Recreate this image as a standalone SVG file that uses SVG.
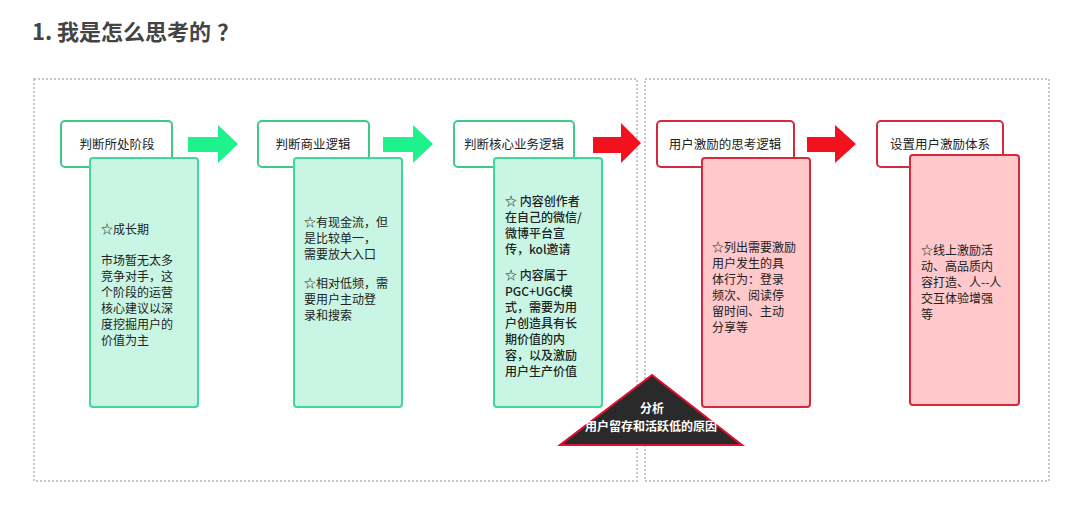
<svg xmlns="http://www.w3.org/2000/svg" width="1080" height="511" viewBox="0 0 1080 511">
<style>
.title{font-family:"Noto Sans CJK SC",sans-serif;font-size:22px;font-weight:bold;fill:#444}
.frame{fill:none;stroke:#b5b5b5;stroke-width:1.5;stroke-dasharray:2 2}
.gh{fill:#fff;stroke:#3cc98c;stroke-width:2}
.gc{fill:#c9f6e4;stroke:#40d99b;stroke-width:2}
.rh{fill:#fff;stroke:#d8283e;stroke-width:2}
.rc{fill:#ffc8cb;stroke:#d8283e;stroke-width:2}
.ht{font-family:"Noto Sans CJK SC",sans-serif;font-size:12.5px;fill:#222;text-anchor:middle}
.ct{font-family:"Noto Sans CJK SC",sans-serif;font-size:12px;fill:#222}
.ctb{font-family:"Noto Sans CJK SC",sans-serif;font-size:12px;fill:#222;font-weight:500}
.ga{fill:#1ef28c}
.ra{fill:#f2111c}
.tri{fill:#2a2a2a;stroke:#e01030;stroke-width:2}
.tt{font-family:"Noto Sans CJK SC",sans-serif;font-size:12px;fill:#fff;font-weight:bold;text-anchor:middle}
</style>
<rect width="1080" height="511" fill="#fff"/>
<text class="title" x="32" y="40">1. 我是怎么思考的<tspan dx="6">？</tspan></text>
<rect class="frame" x="34" y="79" width="603" height="402"/>
<rect class="frame" x="645" y="79" width="404" height="402"/>

<g id="connectors">
<path class="ga" d="M188,137 H218 V125 L238,144 L218,163 V152 H188 Z"/>
<path class="ga" d="M383,137 H413 V125 L433,144 L413,163 V152 H383 Z"/>
<path class="ra" d="M593,137 H621 V123 L641,143 L621,163 V153 H593 Z"/>
<path class="ra" d="M807,137 H835 V125 L856,144 L835,163 V152 H807 Z"/>
</g>

<g id="node1">
<rect class="gh" x="61" y="121" width="111" height="46" rx="4"/>
<text class="ht" x="117" y="149">判断所处阶段</text>
<rect class="gc" x="90" y="158" width="108" height="249" rx="3"/>
<text class="ct" x="101" y="234">☆成长期</text>
<text class="ct" x="101" y="265">市场暂无太多</text>
<text class="ct" x="101" y="281">竞争对手，这</text>
<text class="ct" x="101" y="297">个阶段的运营</text>
<text class="ct" x="101" y="313">核心建议以深</text>
<text class="ct" x="101" y="329">度挖掘用户的</text>
<text class="ct" x="101" y="345">价值为主</text>
</g>

<g id="node2">
<rect class="gh" x="258" y="121" width="111" height="46" rx="4"/>
<text class="ht" x="313" y="149">判断商业逻辑</text>
<rect class="gc" x="294" y="158" width="108" height="249" rx="3"/>
<text class="ct" x="304" y="227">☆有现金流，但</text>
<text class="ct" x="304" y="243">是比较单一，</text>
<text class="ct" x="304" y="259">需要放大入口</text>
<text class="ct" x="304" y="288">☆相对低频，需</text>
<text class="ct" x="304" y="304">要用户主动登</text>
<text class="ct" x="304" y="320">录和搜索</text>
</g>

<g id="node3">
<rect class="gh" x="454" y="121" width="120" height="46" rx="4"/>
<text class="ht" x="514" y="149">判断核心业务逻辑</text>
<rect class="gc" x="494" y="158" width="108" height="249" rx="3"/>
<text class="ctb" x="505" y="206">☆ 内容创作者</text>
<text class="ctb" x="505" y="222">在自己的微信/</text>
<text class="ctb" x="505" y="238">微博平台宣</text>
<text class="ctb" x="505" y="254">传，kol邀请</text>
<text class="ctb" x="505" y="280">☆ 内容属于</text>
<text class="ctb" x="505" y="296">PGC+UGC模</text>
<text class="ctb" x="505" y="312">式，需要为用</text>
<text class="ctb" x="505" y="328">户创造具有长</text>
<text class="ctb" x="505" y="344">期价值的内</text>
<text class="ctb" x="505" y="360">容，以及激励</text>
<text class="ctb" x="505" y="376">用户生产价值</text>
</g>

<g id="node4">
<rect class="rh" x="657" y="121" width="137" height="46" rx="4"/>
<text class="ht" x="725" y="149">用户激励的思考逻辑</text>
<rect class="rc" x="702" y="158" width="108" height="249" rx="3"/>
<text class="ct" x="712" y="252">☆列出需要激励</text>
<text class="ct" x="712" y="268">用户发生的具</text>
<text class="ct" x="712" y="284">体行为：登录</text>
<text class="ct" x="712" y="300">频次、阅读停</text>
<text class="ct" x="712" y="316">留时间、主动</text>
<text class="ct" x="712" y="332">分享等</text>
</g>

<g id="node5">
<rect class="rh" x="877" y="121" width="126" height="46" rx="4"/>
<text class="ht" x="940" y="149">设置用户激励体系</text>
<rect class="rc" x="910" y="155" width="109" height="250" rx="3"/>
<text class="ct" x="921" y="255">☆线上激励活</text>
<text class="ct" x="921" y="271">动、高品质内</text>
<text class="ct" x="921" y="287">容打造、人--人</text>
<text class="ct" x="921" y="303">交互体验增强</text>
<text class="ct" x="921" y="319">等</text>
</g>

<g id="node6">
<path class="tri" d="M652,375 L742,445 L560,445 Z"/>
<text class="tt" x="652" y="413">分析</text>
<text class="tt" x="651" y="431">用户留存和活跃低的原因</text>
</g>
</svg>
